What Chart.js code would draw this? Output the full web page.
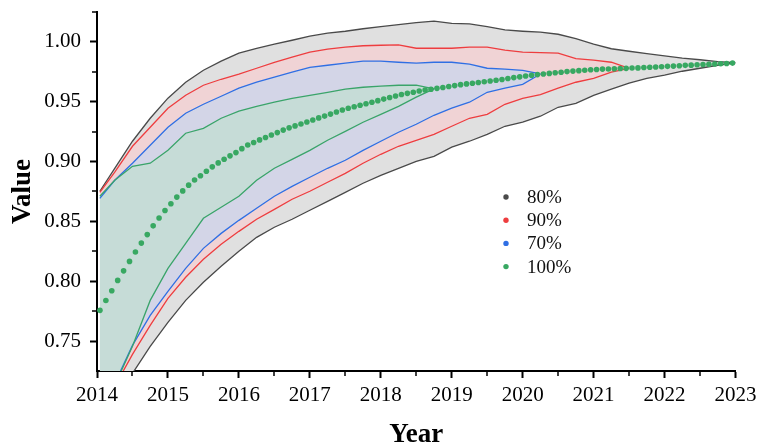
<!DOCTYPE html>
<html>
<head>
<meta charset="utf-8">
<script src="https://cdn.jsdelivr.net/npm/chart.js@4/dist/chart.umd.min.js"></script>
<style>
  html, body { margin: 0; padding: 0; background: #ffffff; }
  #wrap { width: 760px; height: 448px; position: relative; }
</style>
</head>
<body>
<div id="wrap"><canvas id="c" width="760" height="448"></canvas></div>
<script>
// Quarterly sample positions for the band envelopes (years)
const bandYears = [2014.04, 2014.25, 2014.5, 2014.75, 2015, 2015.25, 2015.5, 2015.75,
  2016, 2016.25, 2016.5, 2016.75, 2017, 2017.25, 2017.5, 2017.75,
  2018, 2018.25, 2018.5, 2018.75, 2019, 2019.25, 2019.5, 2019.75,
  2020, 2020.25, 2020.5, 2020.75, 2021, 2021.25, 2021.5, 2021.75,
  2022, 2022.25, 2022.5, 2022.75, 2023];

// 80% envelope
const gray80Upper = [0.8752, 0.8944, 0.9170, 0.9362, 0.9530, 0.9663, 0.9763, 0.9839,
  0.9906, 0.9947, 0.9981, 1.0014, 1.0048, 1.0073, 1.0089, 1.0110,
  1.0127, 1.0144, 1.0161, 1.0173, 1.0155, 1.0150, 1.0127, 1.0100,
  1.0089, 1.0081, 1.0064, 1.0027, 0.9981, 0.9943, 0.9922, 0.9902,
  0.9883, 0.9864, 0.9851, 0.9836, 0.9826];
const gray80Lower = [0.6670, 0.6921, 0.7230, 0.7456, 0.7656, 0.7840, 0.7991, 0.8125,
  0.8250, 0.8367, 0.8451, 0.8518, 0.8593, 0.8668, 0.8743, 0.8819,
  0.8885, 0.8944, 0.9002, 0.9044, 0.9120, 0.9170, 0.9228, 0.9295,
  0.9329, 0.9379, 0.9454, 0.9487, 0.9554, 0.9605, 0.9655, 0.9696,
  0.9722, 0.9755, 0.9780, 0.9805, 0.9826];

// 90% envelope (meets the median in mid 2021)
const red90Upper = [0.8743, 0.8911, 0.9128, 0.9287, 0.9446, 0.9554, 0.9638, 0.9688,
  0.9730, 0.9780, 0.9830, 0.9872, 0.9914, 0.9939, 0.9956, 0.9968,
  0.9972, 0.9975, 0.9947, 0.9947, 0.9947, 0.9956, 0.9956, 0.9931,
  0.9914, 0.9910, 0.9906, 0.9860, 0.9847, 0.9830, 0.9779];
const red90Lower = [0.6912, 0.7121, 0.7389, 0.7631, 0.7857, 0.8033, 0.8183, 0.8309,
  0.8417, 0.8518, 0.8601, 0.8685, 0.8752, 0.8827, 0.8902, 0.8986,
  0.9061, 0.9128, 0.9178, 0.9228, 0.9295, 0.9362, 0.9395, 0.9479,
  0.9529, 0.9559, 0.9613, 0.9663, 0.9696, 0.9747, 0.9779];

// 70% envelope (meets the median in early 2020)
const blue70Upper = [0.8693, 0.8844, 0.8986, 0.9136, 0.9287, 0.9404, 0.9479, 0.9546,
  0.9613, 0.9663, 0.9705, 0.9747, 0.9788, 0.9805, 0.9822, 0.9839,
  0.9839, 0.9830, 0.9822, 0.9830, 0.9830, 0.9814, 0.9780, 0.9772,
  0.9763, 0.9732];
const blue70Lower = [0.6962, 0.7146, 0.7464, 0.7715, 0.7916, 0.8108, 0.8275, 0.8400,
  0.8509, 0.8610, 0.8710, 0.8793, 0.8869, 0.8944, 0.9011, 0.9094,
  0.9170, 0.9245, 0.9312, 0.9387, 0.9446, 0.9496, 0.9579, 0.9613,
  0.9646, 0.9732];

// 100% envelope (meets the median in late 2018)
const green100Upper = [0.8710, 0.8844, 0.8961, 0.8986, 0.9094, 0.9237, 0.9278, 0.9362,
  0.9421, 0.9462, 0.9496, 0.9529, 0.9554, 0.9579, 0.9605, 0.9621,
  0.9630, 0.9638, 0.9638, 0.9608];
const green100Lower = [0.7004, 0.7130, 0.7456, 0.7840, 0.8108, 0.8317, 0.8526, 0.8618,
  0.8710, 0.8844, 0.8944, 0.9019, 0.9094, 0.9178, 0.9253, 0.9329,
  0.9395, 0.9462, 0.9538, 0.9608];

// Monthly median, mid-month from Jan 2014
const medianValues = [
  0.7757, 0.7839, 0.7920, 0.8007, 0.8087, 0.8166, 0.8244, 0.8319, 0.8390, 0.8463,
  0.8529, 0.8591, 0.8648, 0.8703, 0.8755, 0.8803, 0.8846, 0.8882, 0.8919, 0.8956,
  0.8989, 0.9019, 0.9048, 0.9075, 0.9108, 0.9139, 0.9160, 0.9181, 0.9201, 0.9222,
  0.9242, 0.9263, 0.9282, 0.9298, 0.9314, 0.9331, 0.9348, 0.9365, 0.9380, 0.9397,
  0.9414, 0.9431, 0.9446, 0.9458, 0.9471, 0.9483, 0.9496, 0.9509, 0.9522, 0.9535,
  0.9548, 0.9561, 0.9570, 0.9580, 0.9590, 0.9598, 0.9604, 0.9612, 0.9619, 0.9627,
  0.9635, 0.9643, 0.9649, 0.9655, 0.9661, 0.9667, 0.9674, 0.9680, 0.9686, 0.9694,
  0.9702, 0.9708, 0.9715, 0.9721, 0.9727, 0.9732, 0.9737, 0.9742, 0.9747, 0.9752,
  0.9756, 0.9760, 0.9763, 0.9767, 0.9770, 0.9773, 0.9774, 0.9776, 0.9778, 0.9779,
  0.9782, 0.9783, 0.9786, 0.9788, 0.9791, 0.9793, 0.9796, 0.9798, 0.9801, 0.9804,
  0.9806, 0.9809, 0.9811, 0.9813, 0.9816, 0.9818, 0.9820, 0.9823];
const medianYears = medianValues.map((_, i) => 2014 + (i + 0.5) / 12);

// Axis ticks
const xTicks = [2014, 2015, 2016, 2017, 2018, 2019, 2020, 2021, 2022, 2023];
const xMinorTicks = [2014.5, 2015.5, 2016.5, 2017.5, 2018.5, 2019.5, 2020.5, 2021.5, 2022.5];
const yTicks = [0.75, 0.80, 0.85, 0.90, 0.95, 1.00];
const yMinorTicks = [0.775, 0.825, 0.875, 0.925, 0.975, 1.025];

// Legend entries
const legendLabels = ['80%', '90%', '70%', '100%'];

const COLORS = {
  grayLine: '#4a4a4a', grayFill: '#e0e0e0',
  redLine: '#ee3d3f', redFill: '#f0d3d5',
  blueLine: '#2f6fe4', blueFill: '#d3d5e7',
  greenLine: '#3aa46a', greenFill: '#c6dcd7',
  median: '#38a862'
};
const legendColors = [COLORS.grayLine, COLORS.redLine, COLORS.blueLine, COLORS.median];

const pts = (xs, ys) => ys.map((v, i) => ({ x: xs[i], y: v }));

function bandLine(values, color, fillColor) {
  return {
    data: pts(bandYears, values),
    borderColor: color,
    borderWidth: 1.3,
    pointRadius: 0,
    tension: 0,
    fill: fillColor ? '+1' : false,
    backgroundColor: fillColor || 'transparent'
  };
}

// Minor ticks and the in-plot legend
const extrasPlugin = {
  id: 'extras',
  afterDraw(chart, args, opts) {
    const { ctx, chartArea, scales } = chart;
    const x = scales.x, y = scales.y;
    ctx.save();
    ctx.strokeStyle = '#000';
    ctx.lineWidth = 1.5;
    xMinorTicks.forEach(v => {
      const px = Math.round(x.getPixelForValue(v));
      ctx.beginPath();
      ctx.moveTo(px, chartArea.bottom);
      ctx.lineTo(px, chartArea.bottom + 5);
      ctx.stroke();
    });
    yMinorTicks.forEach(v => {
      const py = Math.round(y.getPixelForValue(v));
      ctx.beginPath();
      ctx.moveTo(chartArea.left, py);
      ctx.lineTo(chartArea.left - 5, py);
      ctx.stroke();
    });
    ctx.font = opts.font;
    ctx.textBaseline = 'middle';
    ctx.textAlign = 'left';
    legendLabels.forEach((label, i) => {
      const cy = opts.top + i * opts.gap;
      ctx.fillStyle = legendColors[i];
      ctx.beginPath();
      ctx.arc(opts.left, cy, 2.7, 0, Math.PI * 2);
      ctx.fill();
      ctx.fillStyle = '#111';
      ctx.fillText(label, opts.left + 21, cy + 1);
    });
    ctx.restore();
  }
};

const serif = 'Liberation Serif';

new Chart(document.getElementById('c').getContext('2d'), {
  type: 'line',
  data: {
    datasets: [
      {
        data: pts(medianYears, medianValues),
        showLine: false,
        pointRadius: 2.8,
        pointBorderWidth: 0,
        pointBackgroundColor: COLORS.median,
        borderColor: COLORS.median,
        fill: false
      },
      bandLine(green100Upper, COLORS.greenLine, COLORS.greenFill),
      bandLine(green100Lower, COLORS.greenLine, null),
      bandLine(blue70Upper, COLORS.blueLine, COLORS.blueFill),
      bandLine(blue70Lower, COLORS.blueLine, null),
      bandLine(red90Upper, COLORS.redLine, COLORS.redFill),
      bandLine(red90Lower, COLORS.redLine, null),
      bandLine(gray80Upper, COLORS.grayLine, COLORS.grayFill),
      bandLine(gray80Lower, COLORS.grayLine, null)
    ]
  },
  options: {
    responsive: false,
    animation: false,
    devicePixelRatio: 1,
    layout: { padding: { left: 0, top: 12, right: 24.5, bottom: 0 } },
    plugins: {
      legend: { display: false },
      tooltip: { enabled: false },
      filler: { drawTime: 'beforeDatasetsDraw', propagate: false },
      extras: { left: 506, top: 197, gap: 23.2, font: '19px "Liberation Serif"' }
    },
    scales: {
      x: {
        type: 'linear',
        min: 2014,
        max: 2023,
        afterBuildTicks: s => { s.ticks = xTicks.map(v => ({ value: v })); },
        afterFit: s => { s.height = 77; s.paddingLeft = 0; s.paddingRight = 0; },
        grid: { display: true, drawOnChartArea: false, drawTicks: true, tickLength: 7, tickWidth: 2, tickColor: '#000' },
        border: { display: true, color: '#000', width: 2 },
        ticks: {
          color: '#000', padding: 5, maxRotation: 0, autoSkip: false,
          font: { family: serif, size: 21 },
          callback: v => String(v)
        },
        title: {
          display: true, text: 'Year', color: '#000',
          font: { family: serif, size: 27, weight: 'bold' },
          padding: { top: 0, bottom: -3 }
        }
      },
      y: {
        type: 'linear',
        min: 0.725,
        max: 1.025,
        afterBuildTicks: s => { s.ticks = yTicks.map(v => ({ value: v })); },
        afterFit: s => { s.width = 97; s.paddingTop = 0; s.paddingBottom = 0; },
        grid: { display: true, drawOnChartArea: false, drawTicks: true, tickLength: 7, tickWidth: 2, tickColor: '#000' },
        border: { display: true, color: '#000', width: 2 },
        ticks: {
          color: '#000', padding: 9, autoSkip: false,
          font: { family: serif, size: 21 },
          callback: v => Number(v).toFixed(2)
        },
        title: {
          display: true, text: 'Value', color: '#000',
          font: { family: serif, size: 27, weight: 'bold' },
          padding: { top: 7, bottom: 0 }
        }
      }
    }
  },
  plugins: [extrasPlugin]
});
</script>
</body>
</html>
